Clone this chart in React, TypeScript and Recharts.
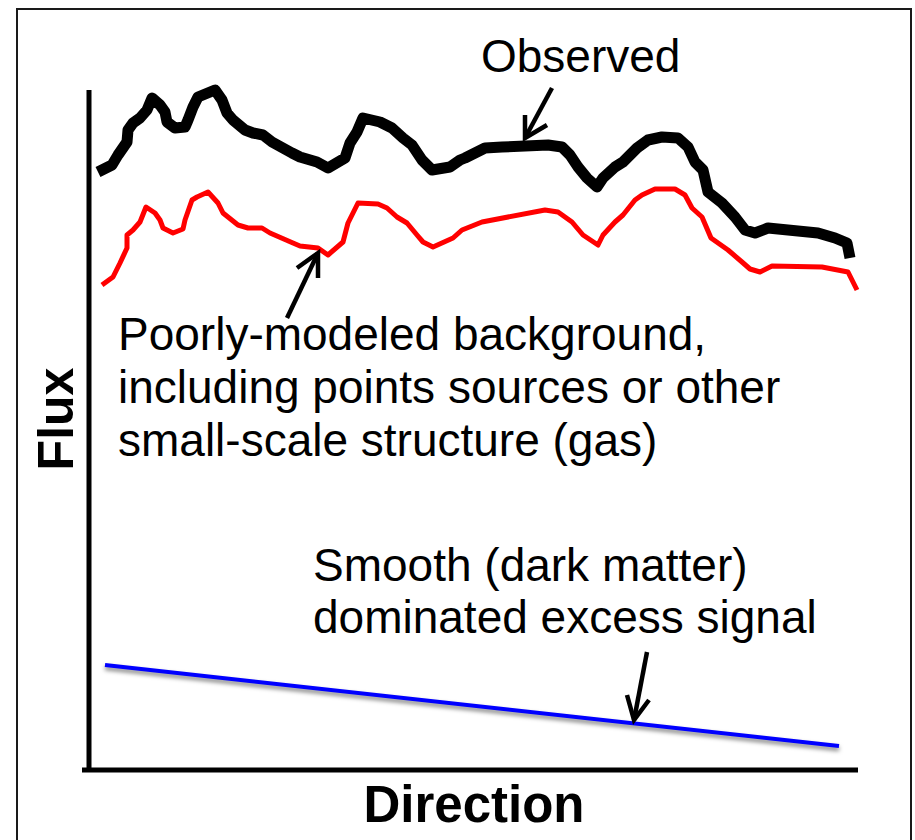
import React from "react";
import { LineChart, Line, XAxis, YAxis, ReferenceLine } from "recharts";

// Direction (arbitrary units, 0..769) and Flux (arbitrary units, 0..680)
const observedDirection = [9, 23, 29, 38, 39, 44, 51, 58, 63, 71, 76, 78, 86, 96, 99, 104, 109, 126, 133, 138, 144, 156, 164, 174, 183, 203, 211, 228, 239, 256, 261, 268, 274, 291, 303, 314, 323, 333, 343, 361, 371, 376, 396, 413, 459, 473, 481, 489, 498, 508, 514, 526, 534, 548, 559, 573, 589, 599, 606, 614, 619, 633, 646, 656, 666, 679, 699, 729, 746, 758, 761];
const observedFlux = [598, 605, 615, 628, 640, 647, 652, 660, 672, 665, 658, 648, 642, 643, 650, 663, 673, 680, 670, 657, 650, 640, 637, 635, 628, 617, 613, 608, 602, 612, 627, 638, 652, 648, 642, 632, 625, 610, 600, 603, 610, 612, 622, 623, 625, 623, 615, 603, 592, 583, 592, 603, 608, 622, 630, 633, 632, 623, 608, 600, 578, 567, 553, 540, 537, 542, 540, 537, 532, 527, 512];

const backgroundDirection = [13, 24, 31, 38, 38, 44, 51, 57, 66, 71, 74, 84, 94, 96, 103, 108, 119, 129, 134, 149, 159, 173, 181, 204, 211, 229, 239, 254, 259, 269, 289, 298, 308, 318, 328, 334, 344, 364, 373, 393, 456, 469, 483, 494, 509, 514, 526, 534, 546, 553, 566, 586, 596, 603, 613, 622, 639, 653, 661, 671, 683, 733, 759, 768];
const backgroundFlux = [485, 493, 507, 522, 535, 540, 548, 563, 557, 550, 542, 537, 541, 550, 570, 573, 578, 567, 557, 545, 542, 542, 537, 527, 524, 522, 515, 528, 547, 567, 566, 562, 553, 547, 535, 528, 523, 532, 540, 548, 560, 558, 548, 535, 525, 535, 548, 555, 570, 575, 581, 581, 575, 562, 553, 532, 520, 508, 501, 498, 504, 503, 498, 480];

const smoothDirection = [16, 750];
const smoothFlux = [105, 24];

// axis extents (data units)
const xAxisExtent = [-7, 769];
const yAxisExtent = [0, 680];

// annotation arrows (shaft: tail -> tip ; head: arm -> tip -> arm), in data units
const observedArrowShaft = [[463, 682], [436, 632]];
const observedArrowHead = [[436, 655], [436, 632], [458, 645]];
const backgroundArrowShaft = [[198, 452], [229, 517]];
const backgroundArrowHead = [[208, 502], [229, 517], [229, 492]];
const smoothArrowShaft = [[558, 118], [545, 50]];
const smoothArrowHead = [[538, 75], [545, 50], [560, 70]];

const labels = {
  observed: "Observed",
  background: [
    "Poorly-modeled background,",
    "including points sources or other",
    "small-scale structure (gas)",
  ],
  smooth: ["Smooth (dark matter)", "dominated excess signal"],
  xTitle: "Direction",
  yTitle: "Flux",
};

const zip = (xs: number[], ys: number[]) => xs.map((d, i) => ({ d, f: ys[i] }));
const pts = (arr: number[][]) => arr.map(([d, f]) => ({ d, f }));

const observedData = zip(observedDirection, observedFlux);
const backgroundData = zip(backgroundDirection, backgroundFlux);
const smoothData = zip(smoothDirection, smoothFlux);

const FONT = "'Liberation Sans', Arial, Helvetica, sans-serif";

export default function App() {
  const arrowProps = {
    type: "linear" as const,
    dataKey: "f",
    stroke: "#000",
    strokeWidth: 4.5,
    dot: false,
    activeDot: false,
    isAnimationActive: false,
    strokeLinejoin: "miter" as const,
  };
  return (
    <div
      style={{
        position: "absolute",
        left: 0,
        top: 0,
        width: 915,
        height: 840,
        overflow: "hidden",
        background: "#fff",
      }}
    >
      <style>{`.smooth-line path { filter: drop-shadow(0px 3px 2px rgba(0,0,0,0.5)); }`}</style>
      <div
        style={{
          position: "absolute",
          left: 16,
          top: 8,
          width: 896,
          height: 860,
          boxSizing: "border-box",
          border: "2px solid #1a1a1a",
        }}
      />
      <div style={{ position: "absolute", left: 0, top: 0 }}>
        <LineChart
          width={915}
          height={840}
          margin={{ left: 89, right: 57, top: 70, bottom: 70 }}
        >
          <XAxis type="number" dataKey="d" domain={[0, 769]} hide />
          <YAxis type="number" dataKey="f" domain={[0, 700]} hide />
          <ReferenceLine
            segment={[
              { x: xAxisExtent[0], y: 0 },
              { x: xAxisExtent[1], y: 0 },
            ]}
            stroke="#000"
            strokeWidth={5}
            ifOverflow="visible"
          />
          <ReferenceLine
            segment={[
              { x: 0, y: yAxisExtent[0] },
              { x: 0, y: yAxisExtent[1] },
            ]}
            stroke="#000"
            strokeWidth={5}
            ifOverflow="visible"
          />
          <Line
            data={smoothData}
            className="smooth-line"
            type="linear"
            dataKey="f"
            stroke="#0000ff"
            strokeWidth={4}
            dot={false}
            activeDot={false}
            isAnimationActive={false}
          />
          <Line
            data={backgroundData}
            type="linear"
            dataKey="f"
            stroke="#ff0000"
            strokeWidth={5}
            strokeLinejoin="round"
            dot={false}
            activeDot={false}
            isAnimationActive={false}
          />
          <Line
            data={observedData}
            type="linear"
            dataKey="f"
            stroke="#000000"
            strokeWidth={11}
            strokeLinejoin="round"
            dot={false}
            activeDot={false}
            isAnimationActive={false}
          />
          <Line data={pts(observedArrowShaft)} {...arrowProps} />
          <Line data={pts(observedArrowHead)} {...arrowProps} />
          <Line data={pts(backgroundArrowShaft)} {...arrowProps} />
          <Line data={pts(backgroundArrowHead)} {...arrowProps} />
          <Line data={pts(smoothArrowShaft)} {...arrowProps} />
          <Line data={pts(smoothArrowHead)} {...arrowProps} />
        </LineChart>
      </div>
      <svg
        width={915}
        height={840}
        style={{ position: "absolute", left: 0, top: 0, pointerEvents: "none" }}
      >
        <text x={481} y={72} fontFamily={FONT} fontSize={46} fill="#000">
          {labels.observed}
        </text>
        {labels.background.map((t, i) => (
          <text key={t} x={118} y={350 + i * 53} fontFamily={FONT} fontSize={46} fill="#000">
            {t}
          </text>
        ))}
        {labels.smooth.map((t, i) => (
          <text key={t} x={313} y={581 + i * 52} fontFamily={FONT} fontSize={46} fill="#000">
            {t}
          </text>
        ))}
        <text
          x={474}
          y={822}
          textAnchor="middle"
          fontFamily={FONT}
          fontWeight="bold"
          fontSize={51}
          fill="#000"
        >
          {labels.xTitle}
        </text>
        <text
          transform="translate(73,419) rotate(-90)"
          textAnchor="middle"
          fontFamily={FONT}
          fontWeight="bold"
          fontSize={50}
          fill="#000"
        >
          {labels.yTitle}
        </text>
      </svg>
    </div>
  );
}
